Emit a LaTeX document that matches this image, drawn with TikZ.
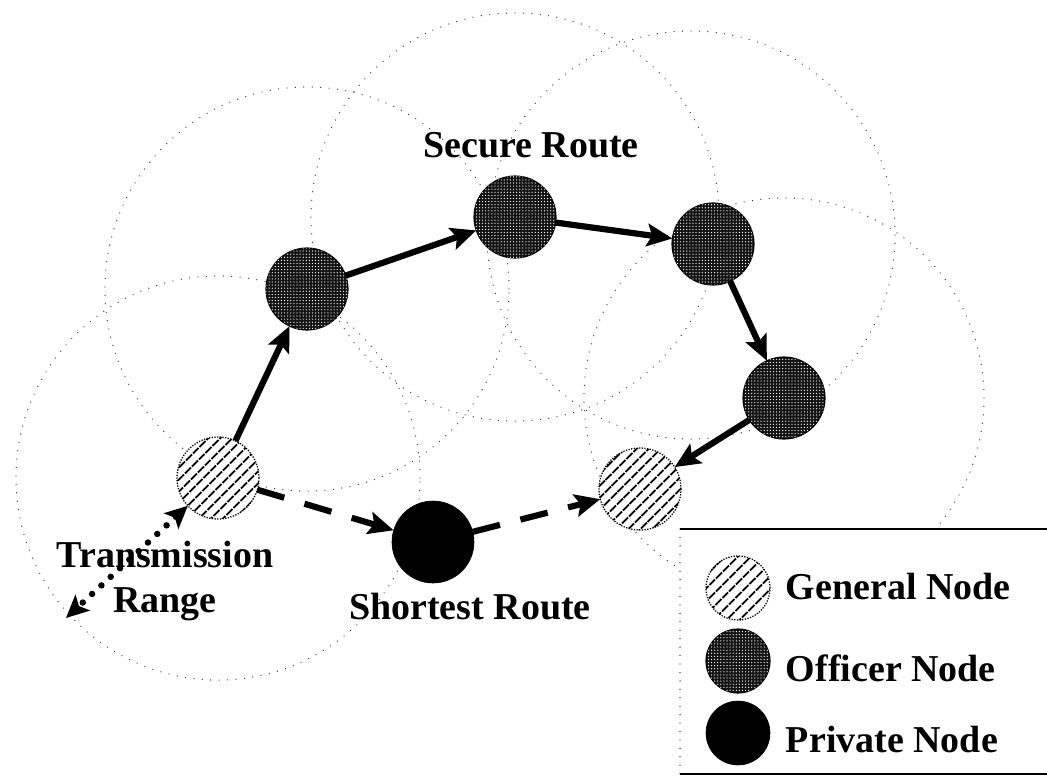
\documentclass[tikz,border=0pt]{standalone}
\usepackage{fontspec}
\setmainfont{Liberation Serif}
\usetikzlibrary{arrows.meta, patterns.meta, backgrounds}

\begin{document}
\begin{tikzpicture}[x=0.025cm, y=-0.025cm,
  nodebase/.style={circle, inner sep=0pt, outer sep=0pt, minimum size=2.05cm},
  general/.style={nodebase, draw=black, densely dotted, line width=0.9pt, fill=white,
    postaction={pattern={Lines[angle=45, distance=6.5pt, line width=1.5pt]}, pattern color=black}},
  officer/.style={nodebase, draw=black, line width=0.8pt, fill=black!92,
    postaction={pattern={Dots[distance=2.2pt, radius=0.45pt]}, pattern color=white}},
  private/.style={nodebase, draw=black, fill=black},
  keysize/.style={minimum size=1.6cm},
  txt/.style={font=\fontsize{27}{32}\selectfont\bfseries},
  secure/.style={-{Stealth[length=18pt, width=16pt, inset=3.5pt]}, line width=4.4pt},
  shortest/.style={secure, dash pattern=on 20pt off 15pt},
  reach/.style={{Stealth[length=16pt, width=15pt, inset=3.5pt]}-{Stealth[length=16pt, width=15pt, inset=3.5pt]},
    line width=4.6pt, line cap=round, dash pattern=on 0pt off 9pt},
  zone/.style={draw=black!85, line width=0.9pt, line cap=round, dash pattern=on 0pt off 6pt},
  keybox/.style={fill=white, inner sep=0pt, outer sep=0pt, minimum width=9.25cm, minimum height=6.125cm, anchor=north west},
]
  \useasboundingbox (0,0) rectangle (1047,777);

  % nodes of the network
  \node[general] (g1) at (218,478) {};
  \node[officer] (o1) at (307,289) {};
  \node[officer] (o2) at (515,217) {};
  \node[officer] (o3) at (713,244) {};
  \node[officer] (o4) at (784,398) {};
  \node[general] (g2) at (640,489) {};
  \node[private] (p1) at (433,542) {};

  % transmission ranges and legend frame
  \begin{scope}[on background layer]
    \foreach \n/\r in {g1/5.05cm, o1/5.05cm, o2/5.1cm, o4/5cm}
      \draw[zone] (\n.center) circle[radius=\r];
    \draw[zone] ([shift={(-22,-9)}]o3.center) circle[radius=5.1cm];
    \node[keybox] (key) at (680,529) {};
  \end{scope}
  \draw[line width=1pt] (key.north west) -- (key.north east);
  \draw[line width=1pt] (key.south west) -- (key.south east);
  \draw[zone, draw=black] (key.north west) -- (key.south west);

  % routes
  \foreach \a/\b in {g1/o1, o1/o2, o2/o3, o3/o4, o4/g2}
    \draw[secure] (\a) -- (\b);
  \draw[shortest] (g1) -- (p1);
  \draw[shortest] (p1) -- (g2);

  \node[txt, anchor=base] (securelbl) at (531,157) {Secure Route};
  \node[txt, anchor=base] (shortlbl) at (470,619) {Shortest Route};
  \node[txt, align=center] (rangelbl) at (165,581) {Transmission\\Range};

  \coordinate (reachend) at (66,618);
  \draw[reach] (g1) -- (reachend);

  % legend
  \node[general, keysize] (kg) at (738,588) {};
  \node[officer, keysize] (ko) at (738,661) {};
  \node[private, keysize] (kp) at (738,733) {};
  \node[txt, anchor=base west] (kgl) at (781,599) {General Node};
  \node[txt, anchor=base west] (kol) at (781,681) {Officer Node};
  \node[txt, anchor=base west] (kpl) at (781,752) {Private Node};
\end{tikzpicture}
\end{document}
